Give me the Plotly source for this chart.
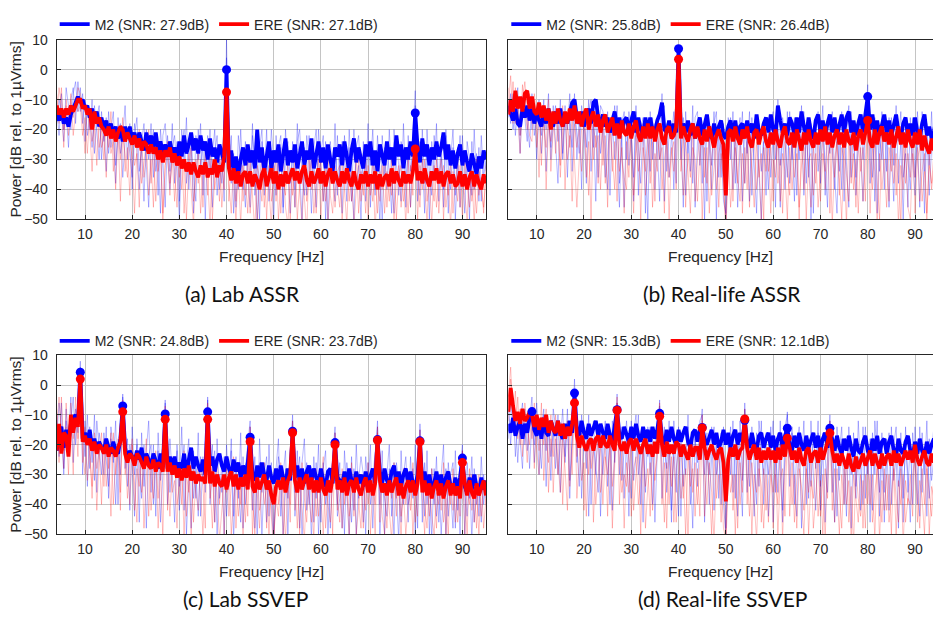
import numpy as np
import plotly.graph_objects as go

# Frequency bins (0.5 Hz resolution, 4-95 Hz)
freq = np.round(np.arange(4.0, 95.0 + 0.25, 0.5), 1)

# ---------------- (a) Lab ASSR ----------------
lab_assr_m2 = [
    -15, -17, -14, -18, -16, -19, -15, -13, -11, -9,
    -11, -10, -13, -12, -16, -13, -17, -14, -19, -16,
    -20, -17, -21, -18, -22, -19, -23, -20, -24, -19,
    -23, -19, -24, -21, -25, -21, -24, -27, -21, -25,
    -22, -26, -21, -27, -24, -28, -25, -29, -24, -28,
    -26, -30, -24, -29, -22, -28, -25, -21, -27, -23,
    -28, -22, -27, -24, -30, -23, -29, -26, -31, -25,
    -28, -31, 0, -33, -27, -34, -29, -35, -30, -26,
    -32, -25, -31, -27, -33, -20, -31, -26, -34, -28,
    -24, -33, -27, -31, -25, -34, -28, -23, -32, -27,
    -31, -25, -33, -28, -24, -32, -27, -30, -23, -33,
    -28, -24, -31, -26, -33, -25, -30, -34, -26, -29,
    -25, -32, -24, -29, -34, -27, -23, -31, -26, -30,
    -33, -25, -29, -24, -32, -27, -34, -25, -28, -32,
    -24, -30, -26, -32, -22, -29, -25, -33, -26, -30,
    -24, -29, -14.5, -26, -31, -23, -29, -25, -32, -26,
    -30, -24, -29, -26, -21, -30, -25, -32, -27, -33,
    -28, -25, -32, -27, -31, -34, -28, -32, -35, -29,
    -33, -27, -30,
]
lab_assr_ere = [
    -12, -15, -13, -16, -13, -15, -12, -14, -12, -10,
    -10, -13, -12, -15, -13, -20, -14, -18, -16, -19,
    -20, -22, -19, -23, -20, -24, -21, -19, -20, -24,
    -21, -23, -25, -22, -26, -23, -27, -24, -25, -28,
    -25, -28, -26, -30, -27, -31, -27, -29, -26, -31,
    -28, -32, -29, -33, -30, -34, -31, -35, -31, -34,
    -36, -32, -35, -31, -36, -33, -35, -30, -36, -32,
    -34, -29, -7.5, -33, -37, -33, -38, -34, -39, -35,
    -34, -38, -34, -39, -35, -37, -40, -35, -33, -39,
    -36, -33, -38, -34, -40, -35, -39, -34, -38, -35,
    -33, -37, -34, -38, -34, -32, -37, -39, -34, -38,
    -36, -33, -38, -34, -39, -35, -33, -38, -34, -37,
    -39, -34, -38, -33, -37, -39, -34, -38, -40, -35,
    -38, -34, -39, -35, -38, -34, -40, -35, -39, -36,
    -35, -39, -33, -38, -34, -37, -39, -34, -38, -35,
    -38, -34, -26.5, -37, -34, -38, -33, -37, -39, -34,
    -37, -33, -38, -34, -39, -35, -34, -38, -35, -39,
    -38, -34, -39, -35, -40, -36, -34, -39, -35, -38,
    -40, -35, -38,
]
lab_assr_m2_subj1 = [
    -12, -22, -8, -20, -14, -26, -10, -6, -18, -4,
    -14, -8, -24, -12, -20, -10, -28, -16, -12, -30,
    -18, -34, -14, -26, -20, -38, -16, -28, -22, -12,
    -30, -18, -40, -22, -16, -34, -26, -44, -20, -30,
    -18, -36, -24, -42, -20, -30, -46, -22, -34, -18,
    -38, -24, -44, -20, -32, -16, -40, -26, -48, -22,
    -30, -18, -42, -24, -36, -20, -46, -28, -22, -40,
    -26, -44, 10, -34, -22, -48, -30, -40, -20, -36,
    -46, -26, -38, -18, -42, -30, -50, -24, -36, -20,
    -44, -28, -52, -22, -38, -26, -46, -20, -34, -48,
    -24, -40, -18, -36, -50, -26, -42, -22, -38, -30,
    -46, -20, -34, -44, -24, -52, -28, -38, -18, -42,
    -30, -48, -22, -36, -26, -44, -20, -40, -32, -50,
    -24, -38, -18, -46, -28, -42, -22, -34, -50, -26,
    -40, -20, -36, -48, -24, -32, -44, -18, -38, -28,
    -46, -22, -7, -34, -42, -20, -38, -26, -50, -24,
    -36, -18, -44, -28, -40, -22, -48, -30, -20, -42,
    -26, -46, -22, -38, -30, -50, -24, -40, -28, -44,
    -22, -36, -30,
]
lab_assr_m2_subj2 = [
    -18, -10, -14, -24, -6, -12, -20, -8, -4, -14,
    -6, -18, -10, -22, -16, -26, -12, -20, -30, -14,
    -24, -16, -28, -20, -14, -32, -22, -18, -36, -24,
    -20, -28, -36, -18, -26, -40, -24, -18, -32, -46,
    -26, -20, -34, -28, -48, -22, -18, -30, -40, -26,
    -22, -34, -50, -26, -20, -38, -30, -22, -36, -44,
    -20, -32, -26, -50, -22, -34, -28, -20, -42, -30,
    -38, -24, 4, -26, -38, -28, -46, -22, -30, -40,
    -24, -34, -46, -22, -30, -52, -26, -20, -42, -30,
    -36, -20, -30, -42, -26, -22, -48, -30, -24, -38,
    -28, -46, -24, -20, -34, -42, -22, -30, -48, -26,
    -20, -38, -28, -22, -50, -30, -24, -36, -44, -22,
    -36, -24, -30, -44, -20, -34, -50, -26, -22, -38,
    -28, -44, -24, -32, -20, -40, -30, -52, -22, -36,
    -26, -34, -48, -20, -30, -42, -24, -28, -46, -22,
    -34, -26, -12, -44, -24, -30, -48, -20, -34, -42,
    -22, -30, -38, -24, -46, -20, -32, -40, -26, -50,
    -32, -22, -36, -48, -24, -30, -42, -20, -38, -26,
    -44, -28, -34,
]
lab_assr_ere_subj1 = [
    -8, -18, -6, -20, -12, -22, -10, -16, -9, -14,
    -12, -22, -16, -28, -14, -24, -18, -32, -16, -26,
    -22, -36, -18, -28, -24, -40, -20, -30, -16, -34,
    -26, -42, -22, -32, -28, -46, -24, -36, -30, -20,
    -38, -26, -44, -30, -24, -48, -32, -28, -42, -26,
    -34, -46, -28, -40, -30, -50, -32, -26, -44, -36,
    -28, -48, -34, -30, -42, -26, -50, -36, -30, -44,
    -32, -40, -3, -38, -48, -30, -44, -34, -52, -32,
    -42, -30, -48, -36, -32, -50, -38, -28, -46, -34,
    -40, -52, -32, -44, -30, -48, -36, -42, -30, -50,
    -34, -46, -30, -40, -52, -32, -44, -36, -30, -48,
    -38, -30, -50, -34, -44, -28, -42, -48, -32, -40,
    -46, -32, -40, -52, -30, -44, -36, -30, -48, -34,
    -42, -30, -50, -36, -44, -32, -48, -34, -40, -30,
    -46, -34, -42, -30, -50, -36, -32, -44, -38, -48,
    -32, -42, -20, -36, -46, -30, -40, -50, -34, -38,
    -44, -30, -48, -36, -32, -46, -38, -52, -34, -40,
    -30, -46, -36, -42, -50, -32, -44, -38, -48, -34,
    -40, -46, -36,
]
lab_assr_ere_subj2 = [
    -16, -6, -12, -26, -10, -18, -8, -22, -14, -6,
    -8, -16, -28, -12, -20, -34, -18, -14, -26, -20,
    -30, -18, -26, -14, -34, -24, -20, -44, -22, -28,
    -36, -22, -30, -48, -26, -20, -38, -30, -24, -42,
    -30, -46, -24, -34, -28, -50, -32, -24, -38, -30,
    -44, -28, -36, -24, -48, -34, -28, -40, -52, -30,
    -38, -30, -46, -28, -36, -52, -30, -40, -32, -26,
    -46, -34, -12, -44, -30, -38, -50, -32, -28, -44,
    -36, -48, -30, -40, -54, -32, -36, -44, -30, -50,
    -32, -44, -36, -28, -50, -38, -30, -46, -52, -34,
    -42, -30, -50, -38, -32, -44, -54, -30, -40, -34,
    -48, -36, -30, -44, -32, -52, -38, -30, -46, -34,
    -32, -50, -38, -30, -44, -34, -52, -40, -30, -44,
    -36, -48, -32, -42, -30, -54, -36, -44, -32, -48,
    -34, -44, -30, -50, -38, -32, -46, -36, -52, -30,
    -46, -34, -28, -50, -32, -40, -30, -44, -36, -52,
    -32, -46, -36, -30, -50, -34, -42, -30, -48, -36,
    -44, -32, -50, -30, -38, -46, -34, -52, -30, -42,
    -36, -48, -32,
]
lab_assr_m2_peak_hz = [40, 80]
lab_assr_ere_peak_hz = [40, 80]

# ---------------- (b) Real-life ASSR ----------------
real_assr_m2 = [
    -12, -15, -17, -13, -18, -19, -13, -16, -12, -17,
    -13, -18, -14, -17, -19, -14, -18, -13, -17, -19,
    -14, -18, -13, -19, -15, -18, -14, -11, -10, -16,
    -18, -14, -19, -15, -13, -18, -11, -10, -16, -18,
    -15, -19, -16, -21, -17, -14, -20, -16, -21, -17,
    -16, -20, -17, -14, -21, -16, -20, -22, -16, -21,
    -16, -20, -21, -17, -15, -11, -20, -21, -17, -22,
    -18, -21, 7, -22, -18, -21, -17, -22, -18, -23,
    -19, -16, -22, -18, -15, -21, -23, -18, -22, -19,
    -17, -22, -23, -19, -17, -22, -17, -23, -19, -18,
    -22, -17, -21, -18, -23, -15, -21, -22, -18, -16,
    -21, -15, -20, -22, -12, -17, -21, -18, -22, -16,
    -18, -22, -16, -21, -14, -19, -22, -16, -21, -23,
    -17, -15, -21, -17, -22, -18, -15, -21, -16, -22,
    -18, -15, -21, -16, -14, -21, -17, -22, -18, -15,
    -21, -16, -9, -20, -15, -21, -17, -22, -18, -15,
    -21, -17, -22, -18, -15, -21, -23, -18, -16, -22,
    -18, -22, -16, -21, -23, -18, -15, -22, -19, -23,
    -21, -16, -22,
]
real_assr_ere = [
    -15, -10, -14, -7, -13, -9, -14, -8, -7, -13,
    -9, -14, -15, -11, -16, -12, -17, -13, -20, -14,
    -18, -13, -17, -19, -14, -18, -13, -17, -12, -18,
    -14, -19, -15, -13, -20, -16, -14, -19, -15, -21,
    -17, -15, -21, -18, -16, -22, -18, -23, -17, -21,
    -22, -18, -23, -19, -17, -22, -24, -19, -23, -18,
    -23, -19, -24, -20, -18, -23, -25, -20, -19, -23,
    -22, -19, 3.5, -23, -19, -22, -24, -20, -18, -23,
    -19, -23, -25, -20, -24, -19, -23, -26, -22, -20,
    -23, -25, -42, -21, -20, -24, -19, -23, -25, -20,
    -23, -19, -24, -26, -21, -20, -25, -21, -19, -24,
    -26, -21, -25, -20, -24, -26, -21, -19, -24, -25,
    -21, -26, -20, -24, -27, -21, -25, -20, -24, -26,
    -21, -25, -20, -24, -19, -25, -21, -26, -22, -20,
    -25, -21, -26, -20, -24, -25, -21, -27, -22, -20,
    -25, -21, -17, -24, -26, -20, -25, -21, -19, -24,
    -21, -25, -20, -26, -22, -19, -25, -21, -26, -20,
    -24, -26, -21, -25, -20, -27, -22, -26, -28, -23,
    -27, -22, -28,
]
real_assr_m2_subj1 = [
    -10, -18, -8, -22, -12, -28, -9, -16, -24, -10,
    -20, -12, -30, -14, -22, -10, -34, -16, -26, -12,
    -24, -38, -14, -28, -12, -36, -18, -26, -8, -30,
    -16, -40, -14, -26, -10, -34, -18, -44, -12, -28,
    -20, -36, -14, -42, -18, -30, -12, -38, -22, -46,
    -16, -32, -20, -44, -14, -28, -38, -18, -48, -22,
    -34, -16, -40, -20, -30, -8, -44, -18, -36, -22,
    -14, -38, 8, -30, -16, -42, -20, -34, -12, -46,
    -24, -16, -38, -18, -44, -22, -32, -14, -50, -20,
    -36, -18, -54, -24, -16, -40, -20, -46, -26, -14,
    -38, -20, -44, -16, -30, -48, -18, -34, -24, -42,
    -16, -36, -22, -46, -10, -32, -20, -40, -14, -38,
    -24, -44, -16, -30, -12, -42, -20, -36, -18, -48,
    -22, -14, -38, -18, -32, -46, -16, -28, -40, -20,
    -34, -14, -44, -22, -12, -36, -18, -42, -26, -16,
    -30, -18, -5, -38, -16, -44, -20, -34, -14, -40,
    -22, -46, -16, -32, -12, -38, -24, -50, -18, -30,
    -40, -16, -36, -22, -46, -14, -34, -20, -42, -26,
    -18, -38, -24,
]
real_assr_m2_subj2 = [
    -16, -8, -20, -12, -6, -22, -14, -10, -18, -26,
    -8, -22, -16, -10, -28, -14, -20, -8, -30, -18,
    -12, -24, -10, -30, -16, -20, -8, -34, -14, -22,
    -28, -12, -20, -38, -14, -10, -26, -16, -36, -12,
    -14, -26, -40, -16, -22, -12, -32, -46, -18, -14,
    -30, -14, -22, -36, -12, -42, -20, -16, -28, -50,
    -14, -30, -18, -26, -44, -16, -12, -34, -22, -18,
    -40, -16, -2, -20, -46, -14, -28, -18, -38, -16,
    -14, -32, -20, -50, -16, -26, -40, -18, -14, -36,
    -22, -44, -48, -16, -30, -14, -38, -22, -16, -44,
    -18, -28, -14, -42, -22, -16, -34, -50, -18, -26,
    -40, -18, -14, -30, -20, -46, -16, -24, -36, -14,
    -30, -16, -42, -20, -26, -14, -38, -18, -50, -22,
    -16, -34, -24, -12, -42, -18, -28, -14, -36, -48,
    -20, -40, -16, -30, -46, -14, -24, -36, -18, -28,
    -44, -20, -12, -26, -36, -16, -48, -22, -30, -18,
    -34, -16, -28, -44, -18, -24, -14, -36, -28, -46,
    -16, -30, -42, -14, -26, -20, -48, -18, -32, -14,
    -34, -22, -40,
]
real_assr_ere_subj1 = [
    -6, -16, -4, -18, -10, -22, -5, -14, -20, -8,
    -18, -10, -26, -14, -32, -12, -40, -18, -24, -14,
    -28, -16, -36, -20, -14, -30, -22, -44, -18, -26,
    -20, -34, -14, -28, -42, -18, -30, -22, -38, -16,
    -32, -22, -46, -18, -28, -40, -20, -34, -26, -48,
    -24, -36, -18, -42, -28, -22, -50, -26, -34, -20,
    -38, -24, -44, -20, -30, -26, -48, -22, -36, -28,
    -24, -40, 2, -34, -22, -46, -28, -36, -20, -44,
    -30, -22, -50, -26, -38, -20, -42, -32, -24, -46,
    -28, -36, -56, -30, -22, -44, -26, -38, -20, -48,
    -26, -40, -22, -34, -46, -24, -36, -28, -50, -22,
    -34, -26, -44, -20, -38, -30, -48, -24, -32, -42,
    -22, -36, -28, -50, -24, -40, -20, -34, -46, -26,
    -38, -22, -44, -28, -34, -20, -48, -26, -36, -24,
    -42, -26, -30, -52, -22, -38, -28, -46, -24, -34,
    -26, -44, -14, -30, -40, -24, -36, -50, -22, -32,
    -46, -26, -34, -22, -42, -30, -52, -24, -38, -28,
    -36, -22, -48, -30, -26, -44, -34, -50, -28, -40,
    -32, -46, -30,
]
real_assr_ere_subj2 = [
    -12, -2, -18, -6, -16, -28, -10, -4, -14, -22,
    -24, -8, -16, -36, -12, -20, -26, -10, -34, -20,
    -14, -22, -32, -12, -40, -18, -26, -16, -30, -46,
    -30, -20, -14, -36, -24, -50, -18, -26, -22, -40,
    -20, -38, -28, -18, -34, -24, -44, -20, -30, -36,
    -40, -20, -30, -48, -22, -34, -26, -18, -42, -30,
    -22, -46, -28, -34, -20, -40, -30, -24, -50, -26,
    -34, -22, -6, -28, -42, -24, -34, -48, -26, -30,
    -44, -28, -22, -36, -26, -48, -30, -22, -40, -28,
    -24, -40, -50, -28, -46, -32, -22, -36, -44, -28,
    -38, -24, -46, -28, -22, -40, -30, -52, -26, -34,
    -26, -48, -30, -36, -22, -44, -28, -34, -50, -26,
    -40, -28, -22, -46, -32, -26, -50, -30, -28, -42,
    -28, -46, -34, -22, -40, -30, -26, -52, -30, -24,
    -36, -50, -26, -34, -44, -24, -40, -30, -48, -26,
    -44, -30, -20, -48, -26, -34, -52, -28, -40, -30,
    -30, -44, -24, -38, -28, -52, -32, -40, -24, -46,
    -50, -28, -36, -26, -44, -34, -28, -48, -32, -38,
    -28, -42, -34,
]
real_assr_m2_peak_hz = [40, 80]
real_assr_ere_peak_hz = [40, 80]

# ---------------- (c) Lab SSVEP ----------------
lab_ssvep_m2 = [
    -22, -16, -14, -21, -15, -19, -13, -11, -10, -13,
    4.3, -18, -16, -19, -15, -21, -18, -22, -19, -21,
    -22, -18, -21, -23, -19, -22, -23, -18, -7, -21,
    -25, -22, -24, -26, -22, -25, -21, -27, -23, -25,
    -27, -23, -26, -28, -23, -27, -9.7, -28, -24, -27,
    -24, -29, -26, -28, -23, -30, -25, -21, -28, -24,
    -27, -29, -25, -30, -9, -27, -24, -29, -25, -23,
    -27, -29, -24, -28, -30, -25, -29, -26, -31, -27,
    -30, -26, -17.5, -30, -32, -27, -31, -26, -30, -32,
    -27, -31, -33, -28, -32, -27, -31, -33, -28, -32,
    -15.5, -31, -27, -32, -28, -33, -29, -27, -32, -28,
    -31, -33, -28, -32, -34, -29, -28, -33, -19.3, -31,
    -32, -34, -29, -33, -28, -32, -34, -29, -33, -30,
    -34, -29, -33, -30, -28, -33, -18.3, -29, -33, -28,
    -32, -34, -29, -27, -33, -29, -34, -30, -28, -33,
    -29, -33, -34, -30, -18.7, -33, -29, -34, -30, -35,
    -33, -29, -34, -30, -35, -31, -29, -34, -36, -31,
    -35, -31, -24.5, -34, -36, -31, -35, -30, -34, -36,
    -31, -35, -32,
]
lab_ssvep_ere = [
    -22, -13, -23, -16, -17, -24, -10, -16, -11, -14,
    2, -19, -17, -20, -18, -22, -19, -23, -20, -21,
    -23, -20, -24, -21, -22, -24, -21, -19, -9, -23,
    -26, -23, -24, -27, -23, -24, -26, -28, -24, -27,
    -28, -25, -29, -26, -27, -29, -11.5, -29, -26, -30,
    -27, -31, -28, -32, -28, -31, -27, -32, -29, -33,
    -30, -32, -31, -33, -11.5, -33, -29, -34, -30, -33,
    -34, -30, -35, -31, -29, -34, -30, -35, -31, -34,
    -30, -35, -19, -34, -36, -31, -35, -32, -30, -35,
    -32, -37, -40, -34, -32, -35, -31, -36, -32, -30,
    -16, -32, -36, -31, -35, -32, -30, -35, -31, -36,
    -32, -36, -31, -35, -37, -32, -36, -31, -20, -35,
    -32, -36, -31, -37, -33, -32, -36, -31, -35, -37,
    -33, -31, -36, -32, -37, -33, -18.5, -32, -36, -33,
    -37, -32, -36, -33, -31, -37, -33, -38, -34, -32,
    -36, -32, -37, -33, -19, -36, -32, -37, -33, -38,
    -34, -32, -37, -33, -38, -34, -32, -37, -33, -37,
    -34, -38, -26, -33, -37, -32, -36, -38, -33, -37,
    -34, -32, -37,
]
lab_ssvep_m2_subj1 = [
    -10, -24, -6, -28, -12, -20, -4, -26, -8, -16,
    8, -30, -12, -34, -14, -26, -10, -36, -16, -22,
    -30, -14, -38, -18, -26, -12, -40, -16, -3, -28,
    -18, -42, -14, -30, -20, -46, -16, -34, -22, -12,
    -36, -20, -44, -16, -32, -24, -5, -40, -18, -30,
    -46, -20, -34, -14, -42, -26, -18, -48, -22, -38,
    -16, -44, -24, -36, -4, -30, -20, -46, -18, -38,
    -26, -50, -20, -34, -18, -44, -24, -38, -16, -48,
    -28, -20, -12, -42, -24, -52, -18, -36, -26, -46,
    -20, -40, -54, -28, -18, -44, -30, -22, -50, -26,
    -10, -36, -22, -48, -26, -18, -42, -30, -52, -24,
    -38, -20, -46, -28, -22, -50, -32, -24, -14, -40,
    -26, -48, -22, -36, -50, -24, -42, -20, -38, -30,
    -46, -24, -34, -20, -48, -28, -12, -40, -22, -50,
    -30, -20, -44, -26, -36, -52, -22, -40, -28, -46,
    -24, -38, -20, -48, -13, -32, -44, -22, -50, -28,
    -40, -24, -46, -30, -20, -52, -26, -36, -48, -22,
    -42, -28, -20, -50, -26, -38, -24, -46, -30, -44,
    -24, -40, -32,
]
lab_ssvep_m2_subj2 = [
    -18, -6, -14, -30, -8, -22, -12, -4, -20, -6,
    6, -14, -24, -10, -28, -18, -32, -12, -20, -30,
    -16, -26, -34, -14, -22, -40, -20, -30, -4, -18,
    -34, -20, -26, -44, -18, -28, -38, -20, -48, -24,
    -20, -40, -28, -22, -46, -30, -6, -22, -36, -26,
    -30, -22, -42, -28, -20, -50, -32, -24, -38, -28,
    -44, -24, -32, -22, -5, -40, -28, -22, -50, -30,
    -36, -24, -44, -30, -22, -52, -28, -34, -46, -24,
    -40, -30, -14, -24, -48, -32, -26, -50, -30, -24,
    -44, -26, -50, -36, -24, -30, -52, -28, -38, -22,
    -12, -44, -30, -24, -52, -34, -26, -40, -28, -46,
    -26, -50, -34, -26, -40, -30, -48, -28, -16, -44,
    -38, -30, -50, -26, -34, -46, -28, -50, -32, -24,
    -30, -50, -26, -40, -32, -24, -14, -52, -30, -38,
    -44, -28, -36, -50, -26, -32, -46, -30, -24, -40,
    -36, -28, -50, -32, -15, -46, -26, -40, -30, -52,
    -28, -44, -32, -50, -36, -28, -44, -30, -26, -48,
    -32, -50, -22, -36, -44, -30, -52, -28, -40, -34,
    -46, -30, -38,
]
lab_ssvep_ere_subj1 = [
    -8, -26, -4, -22, -14, -30, -6, -18, -10, -24,
    5, -26, -14, -32, -20, -38, -16, -28, -22, -40,
    -18, -34, -24, -44, -16, -30, -22, -42, -5, -30,
    -24, -40, -20, -32, -46, -22, -36, -28, -18, -44,
    -26, -38, -22, -48, -30, -20, -7, -42, -24, -36,
    -32, -48, -26, -40, -22, -44, -30, -50, -28, -36,
    -42, -26, -34, -48, -6, -38, -28, -46, -24, -40,
    -30, -50, -26, -44, -34, -24, -48, -32, -40, -28,
    -46, -30, -14, -38, -50, -28, -42, -34, -26, -48,
    -32, -44, -56, -30, -40, -26, -50, -36, -28, -46,
    -12, -42, -30, -50, -26, -38, -46, -28, -34, -52,
    -28, -44, -32, -24, -48, -36, -30, -50, -16, -38,
    -46, -28, -40, -34, -52, -26, -44, -30, -38, -48,
    -30, -42, -26, -50, -34, -40, -14, -46, -28, -36,
    -48, -30, -38, -26, -44, -34, -52, -28, -40, -32,
    -42, -26, -46, -34, -15, -38, -50, -30, -44, -28,
    -36, -48, -30, -42, -26, -50, -34, -40, -28, -46,
    -32, -44, -22, -38, -50, -28, -42, -34, -48, -30,
    -44, -32, -40,
]
lab_ssvep_ere_subj2 = [
    -14, -4, -18, -28, -6, -20, -12, -30, -4, -18,
    3, -22, -30, -16, -24, -34, -18, -42, -24, -16,
    -34, -20, -28, -16, -40, -26, -18, -36, -8, -24,
    -38, -26, -18, -42, -28, -34, -22, -48, -30, -24,
    -42, -30, -24, -38, -26, -52, -9, -30, -44, -28,
    -24, -40, -34, -28, -50, -30, -36, -26, -46, -32,
    -28, -36, -50, -30, -8, -32, -48, -30, -36, -52,
    -42, -32, -36, -28, -50, -38, -30, -44, -34, -50,
    -30, -44, -16, -50, -32, -36, -48, -30, -40, -34,
    -50, -30, -52, -38, -44, -32, -36, -52, -34, -40,
    -14, -34, -48, -30, -42, -52, -32, -38, -46, -30,
    -44, -32, -38, -50, -30, -40, -46, -32, -18, -42,
    -30, -48, -36, -30, -44, -36, -30, -50, -42, -32,
    -48, -32, -40, -34, -30, -50, -16, -34, -44, -50,
    -32, -44, -52, -34, -38, -30, -44, -36, -50, -40,
    -30, -50, -36, -44, -17, -32, -40, -48, -32, -44,
    -50, -36, -40, -30, -46, -38, -50, -30, -42, -34,
    -46, -32, -26, -50, -34, -40, -30, -46, -36, -50,
    -32, -48, -38,
]
lab_ssvep_m2_peak_hz = [9, 18, 27, 36, 45, 54, 63, 72, 81, 90]
lab_ssvep_ere_peak_hz = [9, 18, 27, 36, 45, 54, 63, 72, 81, 90]

# ---------------- (d) Real-life SSVEP ----------------
real_ssvep_m2 = [
    -13, -16, -11, -17, -14, -12, -18, -13, -16, -11,
    -8.9, -15, -17, -12, -18, -11, -16, -17, -12, -15,
    -17, -12, -16, -18, -13, -17, -12, -16, -2.7, -15,
    -17, -12, -16, -18, -13, -17, -14, -12, -17, -13,
    -16, -18, -13, -17, -19, -14, -8.3, -17, -18, -14,
    -17, -19, -14, -18, -13, -17, -19, -14, -18, -15,
    -19, -14, -18, -15, -9.5, -18, -20, -15, -19, -14,
    -18, -20, -15, -19, -16, -14, -19, -21, -16, -15,
    -19, -15, -14.2, -18, -20, -17, -15, -20, -16, -21,
    -19, -15, -20, -16, -21, -17, -15, -20, -16, -19,
    -11.8, -19, -21, -16, -20, -22, -17, -16, -21, -18,
    -16, -21, -17, -22, -18, -16, -21, -17, -14.5, -20,
    -22, -17, -21, -16, -20, -22, -17, -21, -18, -16,
    -21, -17, -22, -18, -16, -21, -14.5, -18, -22, -17,
    -21, -23, -18, -22, -17, -21, -24, -18, -22, -23,
    -19, -17, -22, -24, -18, -22, -17, -23, -19, -18,
    -23, -19, -17, -22, -24, -18, -22, -23, -19, -17,
    -22, -24, -19, -23, -18, -22, -24, -19, -23, -20,
    -18, -23, -19,
]
real_ssvep_ere = [
    -9, -1, -7, -12, -9, -13, -8, -12, -11, -9,
    -10, -14, -10, -15, -11, -14, -10, -16, -12, -15,
    -16, -12, -17, -13, -18, -14, -17, -13, -6, -17,
    -21, -17, -20, -22, -19, -18, -22, -18, -17, -21,
    -17, -20, -21, -17, -20, -22, -8.5, -20, -22, -19,
    -23, -19, -18, -22, -18, -21, -23, -20, -18, -23,
    -20, -24, -19, -23, -10.5, -20, -24, -19, -23, -20,
    -23, -19, -20, -24, -20, -23, -25, -20, -24, -21,
    -21, -25, -14.4, -21, -25, -22, -20, -23, -25, -22,
    -21, -26, -39, -25, -21, -24, -20, -25, -22, -21,
    -11.4, -21, -25, -22, -20, -25, -21, -26, -22, -25,
    -21, -25, -22, -26, -21, -25, -20, -24, -17.8, -21,
    -25, -22, -26, -21, -25, -27, -22, -21, -26, -23,
    -22, -26, -21, -25, -22, -20, -16.1, -22, -26, -23,
    -27, -23, -26, -28, -23, -27, -29, -24, -28, -25,
    -23, -27, -24, -22, -27, -23, -26, -28, -23, -27,
    -24, -23, -27, -22, -26, -23, -27, -24, -22, -25,
    -22, -26, -20, -25, -27, -24, -22, -26, -27, -23,
    -26, -22, -25,
]
real_ssvep_m2_subj1 = [
    -8, -20, -6, -24, -10, -18, -28, -8, -22, -12,
    -4, -26, -10, -30, -14, -8, -34, -12, -24, -16,
    -28, -10, -36, -14, -24, -8, -32, -18, 2, -26,
    -12, -38, -16, -28, -10, -40, -18, -30, -14, -44,
    -20, -12, -34, -16, -42, -22, -3, -30, -14, -38,
    -18, -44, -12, -32, -24, -10, -40, -20, -36, -14,
    -30, -16, -46, -22, -5, -38, -18, -28, -12, -42,
    -22, -36, -14, -44, -20, -30, -10, -40, -24, -16,
    -34, -18, -8, -46, -22, -30, -14, -42, -20, -38,
    -16, -40, -50, -24, -14, -36, -20, -44, -12, -32,
    -6, -36, -18, -28, -44, -16, -34, -12, -40, -22,
    -30, -14, -46, -20, -36, -12, -42, -24, -9, -34,
    -16, -40, -22, -14, -48, -26, -18, -38, -12, -30,
    -42, -16, -34, -20, -46, -24, -10, -36, -18, -44,
    -22, -14, -40, -26, -18, -48, -16, -34, -24, -42,
    -14, -38, -20, -46, -16, -30, -12, -44, -22, -36,
    -18, -42, -14, -32, -24, -48, -16, -38, -20, -30,
    -46, -16, -26, -40, -14, -36, -22, -44, -18, -32,
    -24, -40, -16,
]
real_ssvep_m2_subj2 = [
    -18, -6, -14, -10, -26, -12, -6, -20, -10, -28,
    -12, -20, -6, -18, -28, -10, -22, -14, -32, -8,
    -14, -30, -20, -8, -26, -12, -38, -16, -6, -20,
    -34, -10, -22, -14, -44, -20, -12, -28, -36, -16,
    -30, -14, -20, -40, -12, -26, -6, -14, -32, -22,
    -12, -26, -38, -16, -10, -30, -22, -46, -16, -24,
    -14, -40, -20, -12, -7, -24, -14, -36, -22, -46,
    -12, -26, -44, -16, -34, -22, -14, -28, -48, -18,
    -26, -12, -10, -30, -16, -40, -24, -14, -30, -20,
    -40, -14, -48, -20, -30, -12, -38, -18, -26, -44,
    -8, -20, -34, -14, -26, -40, -12, -22, -30, -16,
    -44, -22, -12, -36, -16, -28, -46, -14, -10, -24,
    -14, -32, -44, -18, -26, -12, -40, -22, -34, -16,
    -28, -12, -42, -16, -24, -36, -12, -20, -46, -14,
    -32, -18, -26, -44, -14, -30, -20, -38, -12, -28,
    -40, -14, -30, -18, -42, -12, -26, -36, -16, -46,
    -26, -16, -40, -20, -14, -34, -24, -46, -14, -36,
    -18, -40, -14, -28, -44, -16, -30, -12, -38, -22,
    -14, -34, -26,
]
real_ssvep_ere_subj1 = [
    -4, 6, -12, -2, -18, -8, -24, -6, -14, -20,
    -8, -28, -12, -22, -6, -32, -16, -26, -10, -36,
    -18, -30, -14, -40, -20, -12, -34, -22, -3, -38,
    -24, -16, -42, -20, -30, -14, -46, -26, -18, -36,
    -28, -20, -44, -16, -34, -24, -4, -40, -22, -48,
    -26, -36, -18, -42, -30, -22, -50, -20, -34, -28,
    -44, -22, -32, -18, -6, -40, -26, -48, -20, -34,
    -24, -46, -30, -20, -38, -28, -52, -22, -36, -26,
    -40, -26, -10, -44, -22, -34, -50, -24, -38, -30,
    -46, -28, -54, -32, -22, -42, -30, -48, -26, -36,
    -8, -40, -24, -50, -30, -36, -22, -46, -28, -42,
    -34, -24, -48, -30, -40, -22, -52, -28, -14, -44,
    -26, -46, -32, -22, -40, -50, -28, -36, -24, -48,
    -38, -26, -44, -30, -52, -24, -12, -42, -28, -36,
    -50, -30, -40, -24, -46, -34, -54, -28, -38, -44,
    -32, -48, -26, -40, -30, -52, -24, -36, -46, -28,
    -42, -30, -50, -26, -38, -46, -28, -54, -32, -40,
    -30, -44, -20, -36, -48, -28, -40, -24, -50, -34,
    -38, -26, -44,
]
real_ssvep_ere_subj2 = [
    -12, 2, -6, -16, -4, -20, -10, -14, -26, -8,
    -18, -6, -22, -30, -12, -20, -8, -36, -18, -24,
    -10, -26, -36, -18, -28, -42, -16, -30, -4, -24,
    -16, -32, -26, -44, -18, -28, -22, -40, -30, -20,
    -40, -24, -30, -20, -48, -28, -6, -24, -36, -30,
    -34, -22, -44, -28, -24, -40, -30, -22, -48, -34,
    -26, -42, -30, -24, -8, -30, -46, -26, -40, -24,
    -46, -28, -22, -38, -30, -50, -24, -34, -28, -44,
    -28, -44, -12, -30, -40, -26, -36, -52, -30, -24,
    -32, -48, -52, -26, -36, -30, -50, -24, -40, -30,
    -10, -30, -44, -26, -38, -52, -28, -34, -48, -30,
    -46, -30, -36, -26, -50, -32, -28, -44, -16, -30,
    -40, -30, -48, -28, -34, -42, -26, -50, -32, -38,
    -26, -44, -32, -50, -28, -38, -14, -30, -46, -28,
    -36, -48, -28, -40, -32, -52, -30, -38, -46, -30,
    -48, -30, -40, -30, -46, -36, -28, -52, -32, -42,
    -30, -46, -36, -28, -50, -32, -40, -30, -46, -38,
    -40, -30, -24, -46, -32, -38, -50, -28, -36, -44,
    -30, -46, -34,
]
real_ssvep_m2_peak_hz = [9, 18, 27, 36, 45, 54, 63, 72]
real_ssvep_ere_peak_hz = [18, 27, 36, 45, 54, 63, 72]

# SNR values shown in the legends
snr_m2 = ["27.9", "25.8", "24.8", "15.3"]
snr_ere = ["27.1", "26.4", "23.7", "12.1"]
captions = ["(a) Lab ASSR", "(b) Real-life ASSR", "(c) Lab SSVEP", "(d) Real-life SSVEP"]

x_ticks = [10, 20, 30, 40, 50, 60, 70, 80, 90]
y_ticks = [-50, -40, -30, -20, -10, 0, 10]

series = [
    (lab_assr_m2, lab_assr_ere,
     [lab_assr_m2_subj1, lab_assr_m2_subj2], [lab_assr_ere_subj1, lab_assr_ere_subj2],
     lab_assr_m2_peak_hz, lab_assr_ere_peak_hz),
    (real_assr_m2, real_assr_ere,
     [real_assr_m2_subj1, real_assr_m2_subj2], [real_assr_ere_subj1, real_assr_ere_subj2],
     real_assr_m2_peak_hz, real_assr_ere_peak_hz),
    (lab_ssvep_m2, lab_ssvep_ere,
     [lab_ssvep_m2_subj1, lab_ssvep_m2_subj2], [lab_ssvep_ere_subj1, lab_ssvep_ere_subj2],
     lab_ssvep_m2_peak_hz, lab_ssvep_ere_peak_hz),
    (real_ssvep_m2, real_ssvep_ere,
     [real_ssvep_m2_subj1, real_ssvep_m2_subj2], [real_ssvep_ere_subj1, real_ssvep_ere_subj2],
     real_ssvep_m2_peak_hz, real_ssvep_ere_peak_hz),
]
for g in series:
    for arr in [g[0], g[1]] + g[2] + g[3]:
        assert len(arr) == len(freq), len(arr)

# ---------------- layout geometry (pixels) ----------------
W, H = 933, 626
# left, right, top, bottom edge of each axes box, x-range end, legend row y
boxes = [
    (56.7, 486.0, 32.6, 216.8, 95.0, 17),
    (508.3, 933.0, 32.6, 216.8, 93.8, 17),
    (56.7, 486.0, 356.3, 540.0, 95.0, 342),
    (508.3, 933.0, 356.3, 540.0, 93.8, 342),
]
caption_pos = [(242, 293), (722, 293), (246, 606), (722, 606)]

BLUE = "#0000ff"
RED = "#ff0000"
TEXT = "#262626"
GRID = "#c4c4c4"
FONT = "Liberation Sans, Arial, sans-serif"


def at_hz(values, hz_list):
    idx = [int(round((h - 4.0) / 0.5)) for h in hz_list]
    return [freq[i] for i in idx], [values[i] for i in idx]


fig = go.Figure()
layout = {}
annotations = []

for k, (group, box) in enumerate(zip(series, boxes), start=1):
    m2, ere, m2_subjects, ere_subjects, m2_pk, ere_pk = group
    x0, x1, y0, y1, xmax, leg_y = box
    sfx = "" if k == 1 else str(k)
    xa, ya = "x" + sfx, "y" + sfx
    leg = "legend" + sfx

    # individual recordings, thin and translucent
    for subj in m2_subjects:
        fig.add_trace(go.Scatter(x=freq, y=subj, mode="lines", xaxis=xa, yaxis=ya,
                                 line=dict(color="rgba(0,0,255,0.28)", width=1),
                                 showlegend=False, hoverinfo="skip"))
    for subj in ere_subjects:
        fig.add_trace(go.Scatter(x=freq, y=subj, mode="lines", xaxis=xa, yaxis=ya,
                                 line=dict(color="rgba(255,0,0,0.24)", width=1),
                                 showlegend=False, hoverinfo="skip"))
    # grand averages
    fig.add_trace(go.Scatter(x=freq, y=m2, mode="lines", xaxis=xa, yaxis=ya,
                             line=dict(color=BLUE, width=3.8),
                             name=f"M2 (SNR: {snr_m2[k-1]}dB)", legend=leg))
    fig.add_trace(go.Scatter(x=freq, y=ere, mode="lines", xaxis=xa, yaxis=ya,
                             line=dict(color=RED, width=3.8),
                             name=f"ERE (SNR: {snr_ere[k-1]}dB)", legend=leg))
    # stimulation-frequency markers
    px, py = at_hz(m2, m2_pk)
    fig.add_trace(go.Scatter(x=px, y=py, mode="markers", xaxis=xa, yaxis=ya,
                             marker=dict(color=BLUE, size=9), showlegend=False))
    px, py = at_hz(ere, ere_pk)
    fig.add_trace(go.Scatter(x=px, y=py, mode="markers", xaxis=xa, yaxis=ya,
                             marker=dict(color=RED, size=9), showlegend=False))

    left_col = k in (1, 3)
    layout["xaxis" + sfx] = dict(
        domain=[x0 / W, x1 / W], range=[4, xmax], anchor=ya,
        tickmode="array", tickvals=x_ticks, ticks="inside", ticklen=4,
        tickcolor=TEXT, showline=True, linecolor=TEXT, linewidth=1, mirror=True,
        showgrid=True, gridcolor=GRID, gridwidth=1, zeroline=False,
        tickfont=dict(family=FONT, size=14, color=TEXT), ticklabelstandoff=2,
    )
    layout["yaxis" + sfx] = dict(
        domain=[1 - y1 / H, 1 - y0 / H], range=[-50, 10], anchor=xa,
        tickmode="array", tickvals=y_ticks, ticks="inside", ticklen=4,
        tickcolor=TEXT, showline=True, linecolor=TEXT, linewidth=1,
        mirror=True if left_col else False,
        showgrid=True, gridcolor=GRID, gridwidth=1, zeroline=False,
        showticklabels=left_col,
        tickfont=dict(family=FONT, size=14, color=TEXT), ticklabelstandoff=5,
    )
    layout[leg] = dict(
        x=(x0 - 2) / W, y=1 - leg_y / H, xanchor="left", yanchor="middle",
        orientation="h", bgcolor="rgba(0,0,0,0)", borderwidth=0,
        font=dict(family=FONT, size=14, color=TEXT), itemwidth=30,
    )

    # axis titles
    annotations.append(dict(
        text="Frequency [Hz]", xref="paper", yref="paper",
        x=(x0 + min(x1, 938.0)) / 2 / W, y=1 - (y1 + 38) / H,
        showarrow=False, xanchor="center", yanchor="middle",
        font=dict(family=FONT, size=15.5, color=TEXT)))
    if left_col:
        annotations.append(dict(
            text="Power [dB rel. to 1µVrms]", xref="paper", yref="paper",
            x=16 / W, y=1 - (y0 + y1) / 2 / H, textangle=-90,
            showarrow=False, xanchor="center", yanchor="middle",
            font=dict(family=FONT, size=15.5, color=TEXT)))
    cx, cy = caption_pos[k - 1]
    annotations.append(dict(
        text=captions[k - 1], xref="paper", yref="paper",
        x=cx / W, y=1 - cy / H, showarrow=False,
        xanchor="center", yanchor="middle",
        font=dict(family="Lato, Noto Sans, sans-serif", size=21, color="#111111")))

fig.update_layout(
    width=W, height=H, margin=dict(l=0, r=0, t=0, b=0),
    paper_bgcolor="white", plot_bgcolor="white",
    annotations=annotations, **layout,
)

fig.write_html("out.html")
